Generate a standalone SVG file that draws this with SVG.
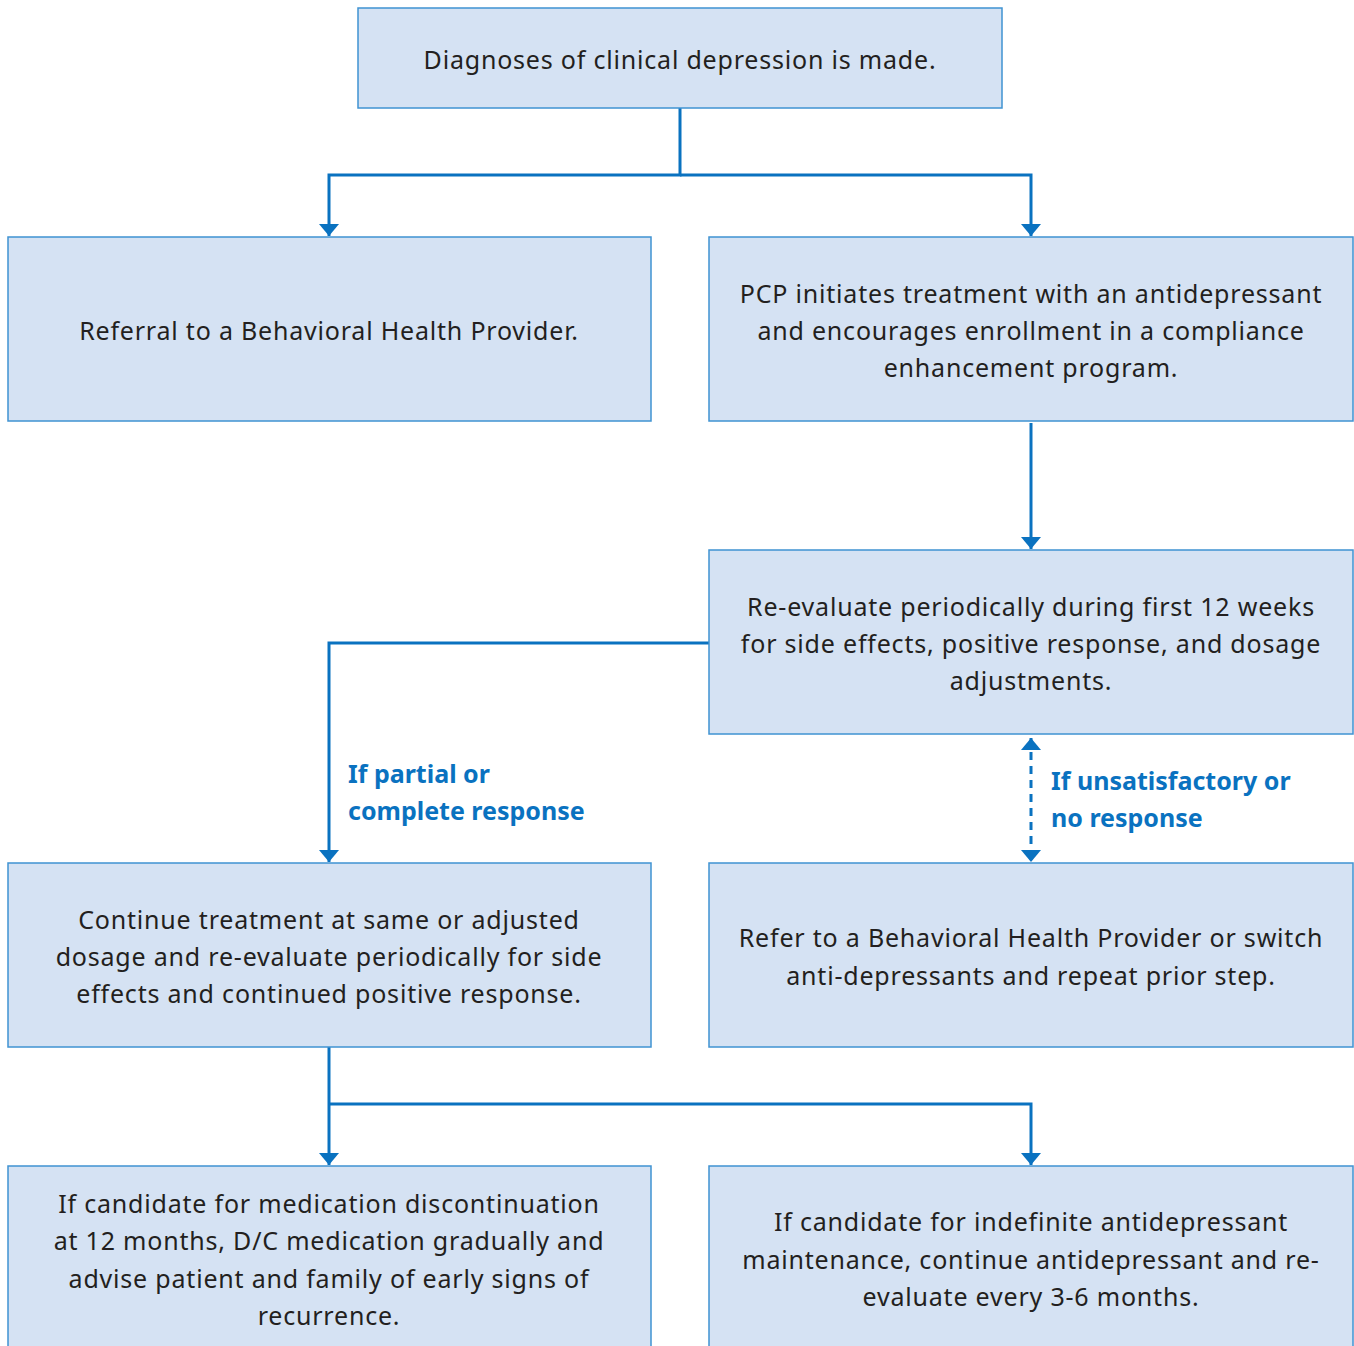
<svg xmlns="http://www.w3.org/2000/svg" width="1354" height="1346" viewBox="0 0 1354 1346">
<style>
.box{fill:#d5e2f3;stroke:#3f93d2;stroke-width:1.5}
.t{font-family:"Noto Sans","Open Sans",sans-serif;font-size:25px;fill:#231f20;text-anchor:middle;letter-spacing:0.8px}
.lb{font-family:"Noto Sans","Open Sans",sans-serif;font-size:25px;font-weight:bold;fill:#0a72c0}
.c{fill:none;stroke:#0a72c0;stroke-width:3}
</style>
<defs>
<marker id="a" viewBox="0 0 12 20" refX="12" refY="10" markerWidth="12" markerHeight="20" markerUnits="userSpaceOnUse" orient="auto-start-reverse"><path d="M0,0 L12,10 L0,20 z" fill="#0a72c0"/></marker>
</defs>
<g id="connectors">
<path class="c" d="M680,108 V175 H329 V236" marker-end="url(#a)"/>
<path class="c" d="M680,175 H1031 V236" marker-end="url(#a)"/>
<path class="c" d="M1031,423 V549" marker-end="url(#a)"/>
<path class="c" d="M709,643 H329 V862" marker-end="url(#a)"/>
<path class="c" d="M1031,738 V862" stroke-dasharray="8,6" stroke-width="2.5" marker-start="url(#a)" marker-end="url(#a)"/>
<path class="c" d="M329,1047 V1165" marker-end="url(#a)"/>
<path class="c" d="M329,1104 H1031 V1165" marker-end="url(#a)"/>
</g>
<g id="n1"><rect class="box" x="358" y="8" width="644" height="100"/><text class="t" x="680" y="69">Diagnoses of clinical depression is made.</text></g>
<g id="n2"><rect class="box" x="8" y="237" width="643" height="184"/><text class="t" x="329" y="340">Referral to a Behavioral Health Provider.</text></g>
<g id="n3"><rect class="box" x="709" y="237" width="644" height="184"/><text class="t" x="1031" y="303">PCP initiates treatment with an antidepressant</text><text class="t" x="1031" y="340">and encourages enrollment in a compliance</text><text class="t" x="1031" y="377">enhancement program.</text></g>
<g id="n4"><rect class="box" x="709" y="550" width="644" height="184"/><text class="t" x="1031" y="616">Re-evaluate periodically during first 12 weeks</text><text class="t" x="1031" y="653">for side effects, positive response, and dosage</text><text class="t" x="1031" y="690">adjustments.</text></g>
<g id="n5"><rect class="box" x="8" y="863" width="643" height="184"/><text class="t" x="329" y="929">Continue treatment at same or adjusted</text><text class="t" x="329" y="966">dosage and re-evaluate periodically for side</text><text class="t" x="329" y="1003">effects and continued positive response.</text></g>
<g id="n6"><rect class="box" x="709" y="863" width="644" height="184"/><text class="t" x="1031" y="947">Refer to a Behavioral Health Provider or switch</text><text class="t" x="1031" y="985">anti-depressants and repeat prior step.</text></g>
<g id="n7"><rect class="box" x="8" y="1166" width="643" height="190"/><text class="t" x="329" y="1213">If candidate for medication discontinuation</text><text class="t" x="329" y="1250">at 12 months, D/C medication gradually and</text><text class="t" x="329" y="1288">advise patient and family of early signs of</text><text class="t" x="329" y="1325">recurrence.</text></g>
<g id="n8"><rect class="box" x="709" y="1166" width="644" height="190"/><text class="t" x="1031" y="1231">If candidate for indefinite antidepressant</text><text class="t" x="1031" y="1269">maintenance, continue antidepressant and re-</text><text class="t" x="1031" y="1306">evaluate every 3-6 months.</text></g>
<g id="labels">
<text class="lb" x="348" y="783">If partial or</text><text class="lb" x="348" y="820">complete response</text>
<text class="lb" x="1051" y="790">If unsatisfactory or</text><text class="lb" x="1051" y="827">no response</text>
</g>
</svg>
